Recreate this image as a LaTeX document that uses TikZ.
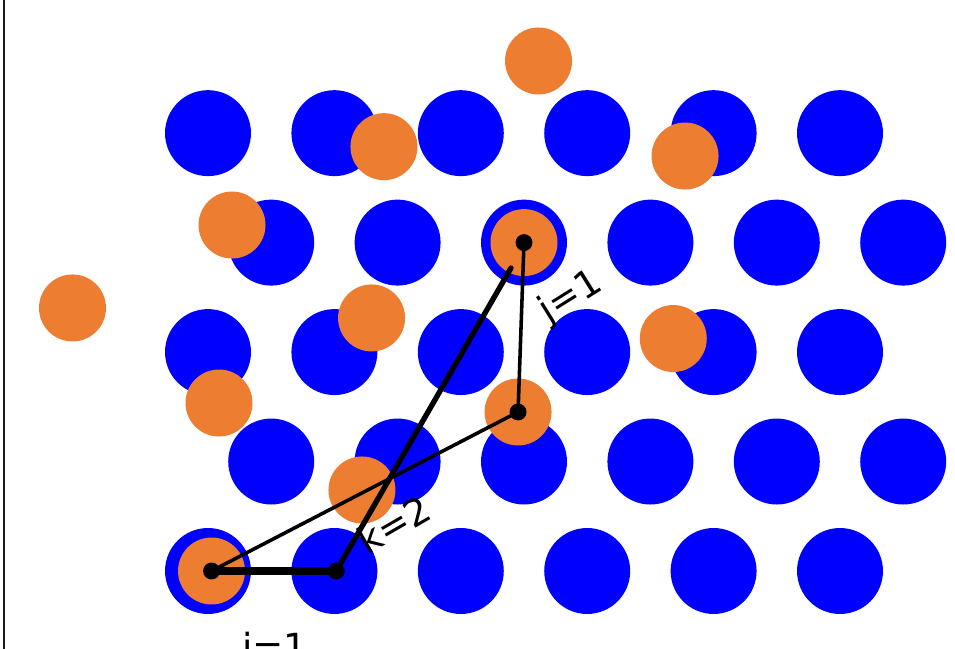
\documentclass[tikz,border=0pt]{standalone}
\usepackage{fontspec}
\setmainfont{DejaVu Sans}
\definecolor{siteblue}{RGB}{0,0,255}
\definecolor{atomorange}{RGB}{237,125,49}

\begin{document}
\begin{tikzpicture}[x=2.5cm, y=2.5cm,
    lbl/.style={font=\fontsize{21}{25}\selectfont, inner sep=0pt},
    bond/.style={black, line cap=round}]
    % 画布范围 (含边距)
    \useasboundingbox (-1.6456,-0.6171) rectangle (5.9098,4.5174);

    % 左侧边框
    \draw[line width=1.3pt, black!90] (-1.612,-0.6171) -- (-1.612,4.5174);

    % 蓝色晶格 (六角排列)
    \foreach \r in {0,...,4}
        \foreach \c in {0,...,5} {
            \pgfmathsetmacro\xx{\c+0.5*mod(\r,2)}
            \fill[siteblue] (\xx,{\r*0.866}) circle (0.340);
        }

    % 橙色原子
    \foreach \x/\y in {2.615/4.035, 1.392/3.357, 3.774/3.283, 0.190/2.737,
                       2.5/2.598, -1.072/2.081, 1.294/2.002, 3.681/1.839,
                       0.087/1.329, 2.453/1.258, 1.218/0.641, 0.028/0}
        \fill[atomorange] (\x,\y) circle (0.265);

    % 标签
    \node[lbl, anchor=base] (ilabel) at (0.530,-0.712) {i=1};
    \node[lbl, rotate=30] (klabel) at (1.47,0.37) {k=2};
    \node[lbl, rotate=32] (jlabel) at (2.872,2.165) {j=1};

    % 关键点
    \coordinate (A) at (0.028,0);
    \coordinate (B) at (1.015,0);
    \coordinate (C) at (2.453,1.258);
    \coordinate (D) at (2.5,2.598);
    \coordinate (Kend) at (2.397,2.397);

    % 连线
    \draw[bond, line width=2pt] (A) -- (C);
    \draw[bond, line width=2pt] (C) -- (D);
    \draw[bond, line width=3pt] (B) -- (Kend);
    \draw[bond, line width=4.5pt] (A) -- (B);

    % 标注点
    \foreach \p in {A,B,C,D}
        \fill (\p) circle (0.067);
\end{tikzpicture}
\end{document}
